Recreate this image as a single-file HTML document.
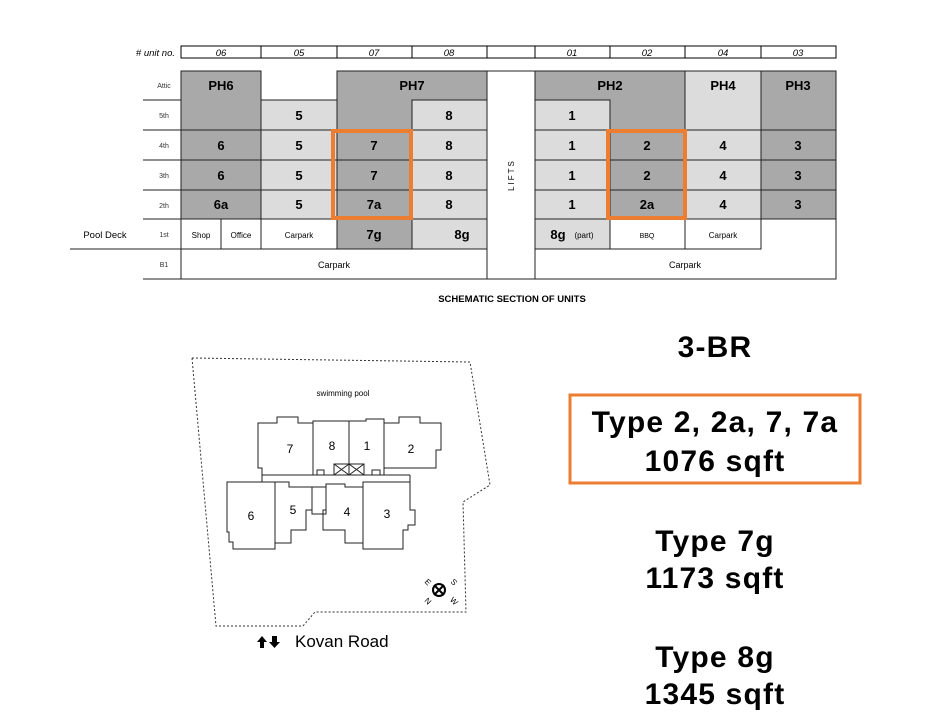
<!DOCTYPE html>
<html><head><meta charset="utf-8"><style>
html,body{margin:0;padding:0;background:#fff;width:943px;height:717px;overflow:hidden}
svg{display:block}
</style></head><body>
<svg width="943" height="717" viewBox="0 0 943 717" font-family="Liberation Sans, sans-serif">
<!-- header row -->
<text x="175" y="56" font-size="9.5" font-style="italic" text-anchor="end"># unit no.</text>
<g fill="#fff" stroke="#000" stroke-width="1">
<rect x="181" y="46" width="655" height="12"/>
</g>
<g stroke="#000" stroke-width="1">
<line x1="261" y1="46" x2="261" y2="58"/><line x1="337" y1="46" x2="337" y2="58"/><line x1="412" y1="46" x2="412" y2="58"/><line x1="487" y1="46" x2="487" y2="58"/><line x1="535" y1="46" x2="535" y2="58"/><line x1="610" y1="46" x2="610" y2="58"/><line x1="685" y1="46" x2="685" y2="58"/><line x1="761" y1="46" x2="761" y2="58"/>
</g>
<g font-size="9.5" font-style="italic" text-anchor="middle">
<text x="221" y="56">06</text><text x="299" y="56">05</text><text x="374" y="56">07</text><text x="449" y="56">08</text><text x="572" y="56">01</text><text x="647" y="56">02</text><text x="723" y="56">04</text><text x="798" y="56">03</text>
</g>
<!-- cells -->
<g stroke="#222" stroke-width="1">
<rect x="181" y="71" width="80" height="59" fill="#a9a9a9"/>
<rect x="181" y="130" width="80" height="30" fill="#a9a9a9"/>
<rect x="181" y="160" width="80" height="30" fill="#a9a9a9"/>
<rect x="181" y="190" width="80" height="29" fill="#a9a9a9"/>
<rect x="181" y="219" width="40" height="30" fill="#fff"/>
<rect x="221" y="219" width="40" height="30" fill="#fff"/>
<rect x="261" y="100" width="76" height="30" fill="#dcdcdc"/>
<rect x="261" y="130" width="76" height="30" fill="#dcdcdc"/>
<rect x="261" y="160" width="76" height="30" fill="#dcdcdc"/>
<rect x="261" y="190" width="76" height="29" fill="#dcdcdc"/>
<rect x="261" y="219" width="76" height="30" fill="#fff"/>
<path d="M337 71 H487 V100 H412 V130 H337 Z" fill="#a9a9a9"/>
<rect x="412" y="100" width="75" height="30" fill="#dcdcdc"/>
<rect x="337" y="130" width="75" height="30" fill="#a9a9a9"/>
<rect x="337" y="160" width="75" height="30" fill="#a9a9a9"/>
<rect x="337" y="190" width="75" height="29" fill="#a9a9a9"/>
<rect x="412" y="130" width="75" height="30" fill="#dcdcdc"/>
<rect x="412" y="160" width="75" height="30" fill="#dcdcdc"/>
<rect x="412" y="190" width="75" height="29" fill="#dcdcdc"/>
<rect x="337" y="219" width="75" height="30" fill="#a9a9a9"/>
<rect x="412" y="219" width="75" height="30" fill="#dcdcdc"/>
<rect x="181" y="249" width="306" height="30" fill="#fff"/>
<rect x="487" y="71" width="48" height="208" fill="#fff"/>
<path d="M535 71 H685 V130 H610 V100 H535 Z" fill="#a9a9a9"/>
<rect x="535" y="100" width="75" height="30" fill="#dcdcdc"/>
<rect x="535" y="130" width="75" height="30" fill="#dcdcdc"/>
<rect x="535" y="160" width="75" height="30" fill="#dcdcdc"/>
<rect x="535" y="190" width="75" height="29" fill="#dcdcdc"/>
<rect x="610" y="130" width="75" height="30" fill="#a9a9a9"/>
<rect x="610" y="160" width="75" height="30" fill="#a9a9a9"/>
<rect x="610" y="190" width="75" height="29" fill="#a9a9a9"/>
<rect x="685" y="71" width="76" height="59" fill="#dcdcdc"/>
<rect x="685" y="130" width="76" height="30" fill="#dcdcdc"/>
<rect x="685" y="160" width="76" height="30" fill="#dcdcdc"/>
<rect x="685" y="190" width="76" height="29" fill="#dcdcdc"/>
<rect x="761" y="71" width="75" height="59" fill="#a9a9a9"/>
<rect x="761" y="130" width="75" height="30" fill="#a9a9a9"/>
<rect x="761" y="160" width="75" height="30" fill="#a9a9a9"/>
<rect x="761" y="190" width="75" height="29" fill="#a9a9a9"/>
<rect x="535" y="219" width="301" height="60" fill="#fff"/>
<rect x="535" y="219" width="75" height="30" fill="#dcdcdc"/>
<rect x="610" y="219" width="75" height="30" fill="#fff"/>
<rect x="685" y="219" width="76" height="30" fill="#fff"/>
<line x1="143" y1="100" x2="181" y2="100"/>
<line x1="143" y1="130" x2="181" y2="130"/>
<line x1="143" y1="160" x2="181" y2="160"/>
<line x1="143" y1="190" x2="181" y2="190"/>
<line x1="143" y1="219" x2="181" y2="219"/>
<line x1="70" y1="249" x2="181" y2="249"/>
<line x1="143" y1="279" x2="181" y2="279"/>
</g>
<g font-size="7" text-anchor="middle" fill="#333">
<text x="164" y="88">Attic</text><text x="164" y="118">5th</text><text x="164" y="148">4th</text><text x="164" y="178">3th</text><text x="164" y="208">2th</text><text x="164" y="237">1st</text><text x="164" y="267">B1</text>
</g>
<text x="105" y="238" font-size="9.5" text-anchor="middle">Pool Deck</text>
<g font-size="13" font-weight="bold" text-anchor="middle">
<text x="221" y="90">PH6</text><text x="412" y="90">PH7</text><text x="610" y="90">PH2</text><text x="723" y="90">PH4</text><text x="798" y="90">PH3</text>
<text x="299" y="120">5</text><text x="449" y="120">8</text><text x="572" y="120">1</text>
<text x="221" y="150">6</text><text x="299" y="150">5</text><text x="374" y="150">7</text><text x="449" y="150">8</text><text x="572" y="150">1</text><text x="647" y="150">2</text><text x="723" y="150">4</text><text x="798" y="150">3</text>
<text x="221" y="180">6</text><text x="299" y="180">5</text><text x="374" y="180">7</text><text x="449" y="180">8</text><text x="572" y="180">1</text><text x="647" y="180">2</text><text x="723" y="180">4</text><text x="798" y="180">3</text>
<text x="221" y="209">6a</text><text x="299" y="209">5</text><text x="374" y="209">7a</text><text x="449" y="209">8</text><text x="572" y="209">1</text><text x="647" y="209">2a</text><text x="723" y="209">4</text><text x="798" y="209">3</text>
<text x="374" y="239">7g</text><text x="462" y="239">8g</text><text x="558" y="239">8g</text>
</g>
<g font-size="8" text-anchor="middle">
<text x="201" y="238">Shop</text><text x="241" y="238">Office</text><text x="299" y="238">Carpark</text>
<text x="584" y="238">(part)</text><text x="647" y="238" font-size="7">BBQ</text><text x="723" y="238">Carpark</text>
<text x="334" y="268" font-size="9">Carpark</text><text x="685" y="268" font-size="9">Carpark</text>
</g>
<text x="0" y="0" font-size="8" letter-spacing="2" transform="translate(514 175) rotate(-90)" text-anchor="middle">LIFTS</text>
<rect x="333" y="131" width="78" height="87" fill="none" stroke="#ed7d31" stroke-width="4"/>
<rect x="608" y="131" width="77" height="87" fill="none" stroke="#ed7d31" stroke-width="4"/>
<text x="512" y="302" font-size="9.5" font-weight="bold" text-anchor="middle">SCHEMATIC SECTION OF UNITS</text>

<g font-size="30" font-weight="bold" text-anchor="middle" letter-spacing="1.2">
<text x="715" y="357">3-BR</text>
<text x="715" y="432">Type 2, 2a, 7, 7a</text>
<text x="715" y="471">1076 sqft</text>
<text x="715" y="551">Type 7g</text>
<text x="715" y="588">1173 sqft</text>
<text x="715" y="667">Type 8g</text>
<text x="715" y="704">1345 sqft</text>
</g>
<rect x="570" y="395" width="290" height="88" fill="none" stroke="#ed7d31" stroke-width="3"/>

<polygon points="192,358 470,362 490,485 463,502 466,612 315,612 303,626 216,626" fill="none" stroke="#333" stroke-width="1" stroke-dasharray="2,2"/>
<text x="343" y="396" font-size="8" text-anchor="middle">swimming pool</text>
<g fill="none" stroke="#222" stroke-width="1">
<path d="M258 423 H277 V417 H298 V423 H313 V475 H262 V468 H258 Z"/>
<path d="M313 421 H349 V475 H324 V470 H317 V475 H313 Z"/>
<path d="M349 421 H366 V419 H384 V475 H380 V470 H372 V475 H349 Z"/>
<path d="M384 423 H399 V417 H420 V423 H441 V450 H436 V468 H384 Z"/>
<rect x="334" y="464" width="15" height="11"/><rect x="349" y="464" width="15" height="11"/>
<path d="M334 464 L349 475 M349 464 L334 475 M349 464 L364 475 M364 464 L349 475"/>
<line x1="262" y1="475" x2="262" y2="482"/><line x1="410" y1="475" x2="410" y2="482"/>
<line x1="262" y1="475" x2="410" y2="475"/>
<path d="M227 482 H275 V549 H233 V542 H229 V532 H227 Z"/>
<path d="M275 482 H289 V487 H312 V510 H306 V530 H291 V543 H275 Z"/>
<path d="M312 487 H326 V514 H312 Z"/>
<path d="M326 484 H345 V487 H363 V543 H345 V530 H323 V510 H326 Z"/>
<path d="M363 482 H410 V510 H415 V525 H408 V530 H403 V549 H363 Z"/>
</g>
<g font-size="12" text-anchor="middle">
<text x="290" y="453">7</text><text x="332" y="450">8</text><text x="367" y="450">1</text><text x="411" y="453">2</text>
<text x="251" y="520">6</text><text x="293" y="514">5</text><text x="347" y="516">4</text><text x="387" y="518">3</text>
</g>
<circle cx="439" cy="590" r="6" fill="none" stroke="#000" stroke-width="2"/>
<path d="M434 585 L444 595 M444 585 L434 595" stroke="#000" stroke-width="2"/>
<g font-size="8" text-anchor="middle">
<text x="426" y="584" transform="rotate(45 426 584)">E</text>
<text x="452" y="584" transform="rotate(45 452 584)">S</text>
<text x="426" y="603" transform="rotate(45 426 603)">N</text>
<text x="452" y="603" transform="rotate(45 452 603)">W</text>
</g>
<g fill="#000">
<path d="M260 648 V642 H257 L262 636 L267 642 H264 V648 Z"/>
<path d="M270 636 H275 V642 H278 L272.5 648 L267 642 H270 Z" transform="translate(2 0)"/>
</g>
<text x="295" y="647" font-size="17">Kovan Road</text>
</svg>
</body></html>
